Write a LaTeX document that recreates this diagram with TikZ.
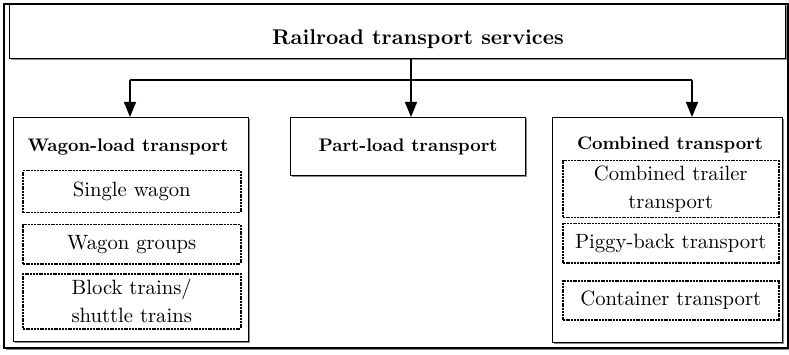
\documentclass[tikz,border=0pt]{standalone}
\usepackage{fontspec}
\setmainfont{lmroman10}[Extension=.otf, UprightFont=*-regular, BoldFont=*-bold,
  ItalicFont=*-italic, BoldItalicFont=*-bolditalic]
\usetikzlibrary{arrows.meta,shadows}

\tikzset{
  frame/.style={draw, line width=1.3pt, fill=white, inner sep=0pt,
    drop shadow={shadow xshift=1.8pt, shadow yshift=-1.8pt, fill=black!45, opacity=1}},
  subbox/.style={draw, line width=1.5pt, dash pattern=on 2pt off 0.8pt,
    inner sep=0pt, align=center, font=\fontsize{20.7}{28}\selectfont},
  link/.style={line width=1.4pt, -{Triangle[width=12pt,length=15pt]}},
  maintitle/.style={font=\fontsize{21.3}{26}\selectfont\bfseries},
  grouptitle/.style={font=\fontsize{18.2}{22}\selectfont\bfseries},
}

\begin{document}
\begin{tikzpicture}[x=1pt, y=-1pt]
  \useasboundingbox (0,0) rectangle (789,355);

  % Outer frame
  \draw[frame] (4,4) rectangle (788,348);

  % Top box
  \node[frame, anchor=north west, minimum width=776pt, minimum height=54pt] (services) at (9,4) {};
  \node[maintitle, anchor=base] (servicestxt) at (418,45) {Railroad transport services};

  % Three groups
  \node[frame, anchor=north west, minimum width=235pt, minimum height=224pt] (wagon) at (13,117) {};
  \node[frame, grouptitle, anchor=north west, minimum width=235pt, minimum height=58pt] (partload) at (290,117) {Part-load transport};
  \node[frame, anchor=north west, minimum width=230pt, minimum height=225pt] (combined) at (552,117) {};

  \node[grouptitle, anchor=base] (wagontxt) at (128,152) {Wagon-load transport};
  \node[grouptitle, anchor=base] (combinedtxt) at (670,150) {Combined transport};

  % Wagon-load items
  \node[subbox, anchor=north west, minimum width=218pt, minimum height=42pt] (single) at (22,170) {Single wagon};
  \node[subbox, anchor=north west, minimum width=218pt, minimum height=39pt] (groups) at (22,224) {Wagon groups};
  \node[subbox, anchor=north west, minimum width=218pt, minimum height=55pt] (block) at (22,273) {Block trains/\\shuttle trains};

  % Combined items
  \node[subbox, anchor=north west, minimum width=216pt, minimum height=57pt] (trailer) at (562,160) {Combined trailer\\transport};
  \node[subbox, anchor=north west, minimum width=216pt, minimum height=39pt] (piggy) at (562,223) {Piggy-back transport};
  \node[subbox, anchor=north west, minimum width=216pt, minimum height=39pt] (container) at (562,280) {Container transport};

  % Connectors
  \coordinate (split) at (411,80);
  \coordinate (leftend) at (130,80);
  \coordinate (rightend) at (692,80);
  \draw[line width=1.4pt] (leftend) -- (rightend);
  \draw[link] (services.south -| split) -- (partload.north -| split);
  \draw[link] (leftend) -- (leftend |- wagon.north);
  \draw[link] (rightend) -- (rightend |- combined.north);

\end{tikzpicture}
\end{document}
